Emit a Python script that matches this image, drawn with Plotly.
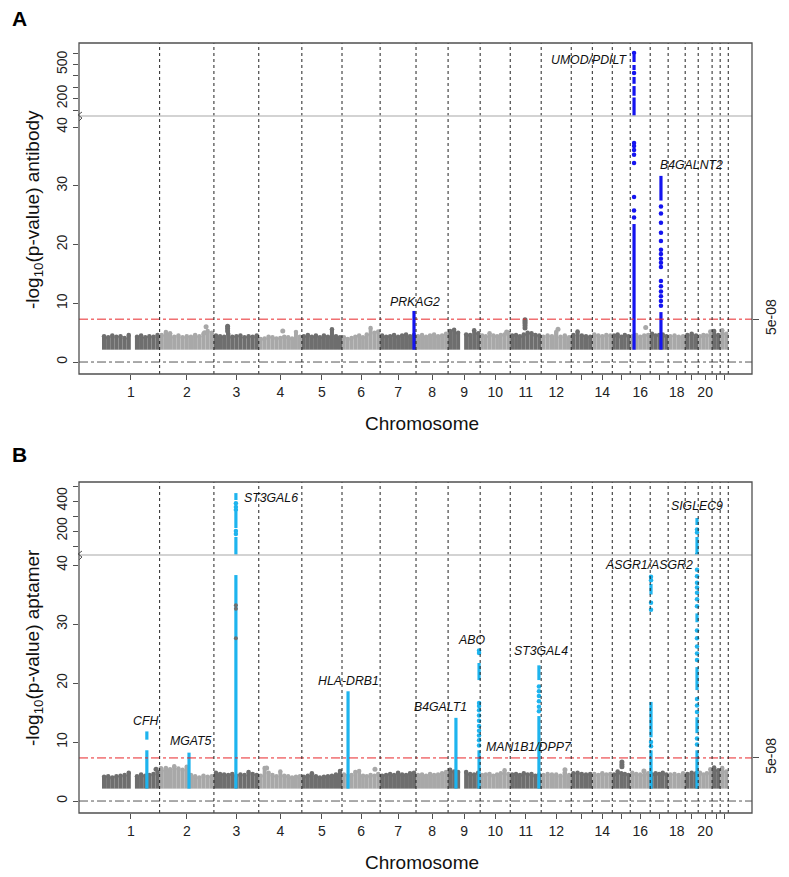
import plotly.graph_objects as go

# ------------------------------------------------------------------ data
chrom_len = [257, 242, 200, 192, 179, 170, 160, 143, 143, 134, 138, 134,
             94, 89, 80, 89, 80, 76, 58, 62, 36, 36]          # plotted Mb span
chrom_tick_text = ["1", "2", "3", "4", "5", "6", "7", "8", "9", "10", "11", "12",
                   "", "14", "", "16", "", "18", "", "20", "", ""]

bg_floor = 2.1          # lowest plotted -log10(p)
gws_value = 7.3         # -log10(5e-08)

# background envelope (top of the grey point cloud), bins per chromosome
bgA = [
    [4.4, 4.2, 4.5, 4.3, 4.4, 4.1, 4.6, None, 4.3, 4.5, 4.2, 4.4, 4.3, 4.6],
    [4.6, 5.1, 4.9, 4.3, 4.5, 4.2, 4.4, 4.3, 4.6, 4.4, 4.8, 5.3, 5.0],
    [4.5, 4.4, 4.3, 4.8, 4.3, 4.4, 4.5, 4.2, 4.4, 4.3, 4.5],
    [3.9, 4.0, 4.3, 4.2, 4.0, 4.1, 4.3, 4.2, 4.0, 5.1, 4.3],
    [4.4, 4.6, 4.3, 4.5, 4.2, 4.5, 4.3, 5.6, 4.4, 4.2],
    [4.2, 3.9, 4.1, 4.3, 4.5, 4.2, 4.7, 5.8, 5.0, 5.2],
    [4.5, 4.3, 4.4, 4.6, 4.3, 4.5, 4.7, 4.4, 4.6],
    [4.4, 4.6, 4.3, 4.5, 4.7, 4.4, 4.5, 4.8],
    [5.3, 5.5, 5.0, None, 4.7, 4.6, 5.4, 4.9],
    [4.5, 4.4, 4.9, 4.5, 4.4, 4.6, 4.7, 5.0],
    [4.5, 4.6, 4.4, 4.7, 5.0, 4.9, 4.6, 4.5],
    [4.3, 4.5, 4.4, 5.1, 4.3, 4.5, 4.2],
    [4.6, 5.2, 4.5, 4.4, 4.3],
    [4.7, 4.5, 4.4, 4.6, 4.5],
    [4.5, 4.7, 4.3, 4.6, 4.4],
    [4.4, 4.6, 4.3, 4.5, 4.6],
    [4.8, 4.5, 4.6, 4.7, 4.4],
    [4.4, 4.5, 4.3, 4.4],
    [4.6, 4.8, 4.5],
    [4.4, 4.6, 4.5, 5.2],
    [5.3, 4.6],
    [5.4, 4.8],
]
bgB = [
    [4.1, 4.2, 4.0, 4.2, 4.3, 4.4, 4.8, None, 4.2, 4.5, 4.3, 4.4, 4.6, 4.9],
    [5.2, 5.6, 5.4, 5.9, 5.5, 5.3, 5.8, 4.4, 4.2, 4.0, 4.3, 4.1, 4.2],
    [4.8, 4.6, 4.5, 4.4, 4.6, 4.3, 4.5, 4.4, 4.9, 4.6, 4.4],
    [4.3, 5.6, 4.8, 4.4, 4.2, 5.0, 4.3, 4.2, 4.0, 4.1, 4.2],
    [4.1, 4.3, 4.7, 4.2, 4.0, 4.1, 4.2, 4.3, 4.5, 5.1],
    [4.5, 4.3, 4.4, 4.9, 5.1, 4.3, 4.2, 4.4, 4.3, 4.6],
    [4.3, 4.4, 4.6, 4.4, 4.8, 4.5, 4.4, 4.7, 4.8],
    [4.4, 4.5, 4.3, 4.6, 4.4, 4.5, 4.7, 4.9],
    [5.3, 5.0, 4.9, None, 4.9, 4.6, 4.5, 4.8],
    [4.4, 4.5, 4.6, 4.3, 4.5, 4.7, 5.2, 4.6],
    [4.5, 4.6, 4.4, 4.7, 4.5, 4.6, 4.3, 4.5],
    [4.4, 4.6, 4.5, 4.5, 4.3, 4.8, 4.4],
    [4.7, 4.8, 4.6, 4.5, 4.6],
    [4.6, 4.4, 4.7, 4.5, 4.6],
    [4.5, 5.0, 4.7, 4.6, 4.4],
    [4.8, 4.6, 4.5, 4.4, 4.7],
    [4.5, 4.7, 4.6, 4.8, 4.5],
    [4.5, 4.6, 4.4, 4.7],
    [4.6, 4.8, 4.7],
    [4.8, 4.5, 4.7, 5.4],
    [5.7, 5.2],
    [5.6, 5.0],
]

# isolated grey points above the cloud
outA_chr = [2, 2, 3, 3, 3, 4, 11, 11, 11, 11, 11, 12, 16, 10]
outA_pos = [207, 200, 61, 61, 61, 107, 66, 66, 66, 66, 66, 75, 69, 118]
outA_val = [6.0, 5.0, 6.1, 5.7, 5.3, 5.3, 7.2, 6.9, 6.6, 6.2, 5.8, 5.6, 5.9, 5.1]

outB_chr = [15, 15, 15, 1, 2, 4, 6, 12, 16]
outB_pos = [43, 43, 43, 241, 6, 35, 147, 106, 61]
outB_val = [6.6, 6.2, 5.8, 5.4, 5.5, 5.6, 5.4, 5.3, 5.1]
overB_chr = [3, 3, 3]
overB_pos = [98, 98, 98]
overB_val = [33.2, 32.6, 27.6]

# associated loci: dense runs (lo, hi) and single points
hitA_chr = [7, 16, 17]
hitA_pos = [151, 17, 48]
hitA_runs = [
    [(2.1, 8.7)],
    [(2.1, 23.5), (47, 210), (225, 310), (330, 390), (451, 495), (521, 583)],
    [(2.1, 8.5), (27.5, 31.7)],
]
hitA_points = [
    [],
    [24.6, 25.8, 28.1, 33.9, 35.3, 36.1, 36.8, 37.3, 425, 600],
    [9.6, 10.4, 11.2, 12.0, 12.9, 13.8, 16.2, 16.9, 17.6, 18.4, 19.1, 20.6, 22.0, 23.7, 25.3, 26.5],
]
hitB_chr = [1, 2, 3, 6, 9, 9, 11, 17, 19]
hitB_pos = [200, 131, 98, 27, 35, 138, 128, 3.6, 52.7]
hitB_runs = [
    [(2.1, 8.6), (10.4, 11.8)],
    [(2.1, 8.2)],
    [(2.1, 38.3), (40, 160), (220, 327), (407, 453)],
    [(2.1, 18.6)],
    [(2.1, 14.1)],
    [(2.1, 8.6), (20.5, 23.4)],
    [(2.1, 14.4), (20.5, 23.0)],
    [(2.1, 8.6), (10.8, 16.8), (35.0, 36.8)],
    [(2.1, 8.6), (11.5, 14.2), (18.8, 22.7), (30.3, 31.8), (40, 160), (240, 287)],
]
hitB_points = [
    [],
    [],
    [360, 180, 200, 340, 385],
    [],
    [],
    [9.4, 10.3, 11.1, 11.9, 12.7, 13.6, 14.5, 15.4, 16.1, 16.6, 25.1, 25.5],
    [15.2, 16.0, 16.9, 17.8, 18.6, 19.4],
    [9.3, 10.0, 32.4, 33.6, 37.4, 38.0],
    [9.6, 10.6, 15.1, 16.2, 17.3, 23.9, 25.0, 26.2, 27.6, 28.9, 33.0, 34.2, 35.3,
     36.2, 37.0, 38.1, 39.2, 40.5, 41.3, 190, 210],
]

# gene labels
labA_text = ["PRKAG2", "UMOD/PDILT", "B4GALNT2"]
labA_chr = [7, 16, 17]
labA_pos = [151, 17, 48]
labA_y = [10.2, 540, 33.6]
labA_anchor = ["center", "right", "left"]
labA_shift = [1, -5, -3]

labB_text = ["CFH", "MGAT5", "ST3GAL6", "HLA-DRB1", "B4GALT1", "ABO", "MAN1B1/DPP7",
             "ST3GAL4", "ASGR1/ASGR2", "SIGLEC9"]
labB_chr = [1, 2, 3, 6, 9, 9, 9, 11, 17, 19]
labB_pos = [200, 131, 98, 27, 35, 138, 138, 128, 3.6, 52.7]
labB_y = [13.6, 10.2, 420, 20.3, 15.9, 27.3, 9.2, 25.4, 40.0, 367]
labB_anchor = ["center", "center", "left", "center", "center", "center", "left",
               "center", "center", "center"]
labB_shift = [-1, 2, 6, 0, -15, -8, 5, 2, -2, 0]

yticksA_low = [0, 10, 20, 30, 40]
yticksA_up = [100, 200, 300, 400, 500, 600]
ytextA_up = ["", "200", "", "", "500", ""]
yticksB_low = [0, 10, 20, 30, 40]
yticksB_up = [100, 200, 300, 400, 500]
ytextB_up = ["", "200", "", "400", ""]

# ------------------------------------------------------------------ layout helpers
# the page body has an 8px margin, so the figure is placed at (8, 8) in the window
OFF = 8
WIN_W, WIN_H = 789, 877
W, H = WIN_W - OFF, WIN_H - OFF
def px(x): return (x - OFF) / W
def py(y): return 1 - (y - OFF) / H

starts, acc = [], 0
for L in chrom_len:
    starts.append(acc)
    acc += L
total_len = acc
centers = [s + L / 2 for s, L in zip(starts, chrom_len)]
def gpos(c, p): return starts[c - 1] + p

X_RANGE = [-102.5, 2897.9]
XDOM = [px(79), px(752)]
A_LOW = [py(374), py(116)]
A_UP = [py(116), py(43)]
B_LOW = [py(813), py(555)]
B_UP = [py(555), py(482)]
A_LOW_R = [-2.04, 41.9]
A_UP_R = [47.4, 687.7]
B_LOW_R = [-2.03, 41.7]
B_UP_R = [40, 527]

DARK, LIGHT = "#6E6E6E", "#A8A8A8"
BLUE_A, BLUE_B = "#1414F0", "#1EB4EE"
FONT = "Liberation Sans, Arial, Helvetica, sans-serif"
FRAME = "#505050"

fig = go.Figure()


def add_background(bg, oc, op, ov, xa, ya):
    xs, hs, ws, cols, tx, ty = [], [], [], [], [], []
    for i, heights in enumerate(bg):
        bw = chrom_len[i] / len(heights)
        col = DARK if i % 2 == 0 else LIGHT
        for j, h in enumerate(heights):
            if h is None:
                continue
            xc = starts[i] + (j + 0.5) * bw
            xs.append(xc); hs.append(h - bg_floor); ws.append(bw); cols.append(col)
            tx.append(xc); ty.append(h)
    fig.add_trace(go.Bar(x=xs, y=hs, base=bg_floor, width=ws,
                         marker=dict(color=cols, line=dict(width=0)),
                         xaxis=xa, yaxis=ya, showlegend=False, hoverinfo="skip"))
    fig.add_trace(go.Scatter(x=tx, y=ty, mode="markers",
                             marker=dict(color=cols, size=4.5, line=dict(width=0)),
                             xaxis=xa, yaxis=ya, showlegend=False, hoverinfo="skip"))
    fig.add_trace(go.Scatter(x=[gpos(c, p) for c, p in zip(oc, op)], y=ov, mode="markers",
                             marker=dict(color=[DARK if c % 2 == 1 else LIGHT for c in oc],
                                         size=5, line=dict(width=0)),
                             xaxis=xa, yaxis=ya, showlegend=False, hoverinfo="skip"))


def add_hits(chrs, poss, runs, pts, color, brk, xa, ylo, yhi):
    lx, ly, ux, uy, plx, ply, pux, puy = [], [], [], [], [], [], [], []
    for c, p, rr, pp in zip(chrs, poss, runs, pts):
        x = gpos(c, p)
        for lo, hi in rr:
            if lo >= brk:
                ux += [x, x, None]; uy += [lo, hi, None]
            else:
                lx += [x, x, None]; ly += [lo, hi, None]
        for v in pp:
            if v >= brk:
                pux.append(x); puy.append(v)
            else:
                plx.append(x); ply.append(v)
    for xx, yy, ya in ((lx, ly, ylo), (ux, uy, yhi)):
        fig.add_trace(go.Scatter(x=xx, y=yy, mode="lines", line=dict(color=color, width=3.2),
                                 xaxis=xa, yaxis=ya, showlegend=False, hoverinfo="skip"))
    for xx, yy, ya in ((plx, ply, ylo), (pux, puy, yhi)):
        fig.add_trace(go.Scatter(x=xx, y=yy, mode="markers",
                                 marker=dict(color=color, size=4.5, line=dict(width=0)),
                                 xaxis=xa, yaxis=ya, showlegend=False, hoverinfo="skip"))


def add_reflines(xa, ya_right, ya_low):
    fig.add_trace(go.Scatter(x=X_RANGE, y=[0, 0], mode="lines",
                             line=dict(color="#555555", width=1, dash="dashdot"),
                             xaxis=xa, yaxis=ya_low, showlegend=False, hoverinfo="skip"))
    fig.add_trace(go.Scatter(x=X_RANGE, y=[gws_value, gws_value], mode="lines",
                             line=dict(color="#E8262A", width=1, dash="dashdot"),
                             xaxis=xa, yaxis=ya_right, showlegend=False, hoverinfo="skip"))


# panel A
add_background(bgA, outA_chr, outA_pos, outA_val, "x", "y")
add_hits(hitA_chr, hitA_pos, hitA_runs, hitA_points, BLUE_A, 45, "x", "y", "y2")
add_reflines("x", "y5", "y")
# panel B
add_background(bgB, outB_chr, outB_pos, outB_val, "x2", "y3")
add_hits(hitB_chr, hitB_pos, hitB_runs, hitB_points, BLUE_B, 40, "x2", "y3", "y4")
fig.add_trace(go.Scatter(x=[gpos(c, p) for c, p in zip(overB_chr, overB_pos)], y=overB_val,
                         mode="markers", marker=dict(color=DARK, size=4),
                         xaxis="x2", yaxis="y3", showlegend=False, hoverinfo="skip"))
add_reflines("x2", "y6", "y3")

# ------------------------------------------------------------------ axes
tickfont = dict(family=FONT, size=14, color="#222222")
xcommon = dict(range=X_RANGE, domain=XDOM, tickvals=centers, ticktext=chrom_tick_text,
               ticks="outside", ticklen=5, tickcolor=FRAME, showgrid=False, zeroline=False,
               showline=False, tickfont=tickfont, ticklabelstandoff=0, fixedrange=True)
ycommon = dict(ticks="outside", ticklen=5, tickcolor=FRAME, showgrid=False, zeroline=False,
               showline=False, tickangle=-90, tickfont=tickfont, fixedrange=True)
yright = dict(side="right", tickvals=[gws_value], ticktext=["5e-08"], ticks="outside",
              ticklen=6, tickcolor=FRAME, showgrid=False, zeroline=False, showline=False,
              tickangle=-90, tickfont=tickfont, fixedrange=True)

fig.update_layout(
    width=W, height=H, autosize=False,
    margin=dict(l=0, r=0, t=0, b=0),
    paper_bgcolor="white", plot_bgcolor="rgba(0,0,0,0)",
    barmode="overlay", showlegend=False,
    font=dict(family=FONT, color="#222222"),
    xaxis=dict(anchor="y", **xcommon),
    xaxis2=dict(anchor="y3", **xcommon),
    yaxis=dict(anchor="x", domain=A_LOW, range=A_LOW_R, tickvals=yticksA_low, **ycommon),
    yaxis2=dict(anchor="x", domain=A_UP, range=A_UP_R, tickvals=yticksA_up,
                ticktext=ytextA_up, **ycommon),
    yaxis3=dict(anchor="x2", domain=B_LOW, range=B_LOW_R, tickvals=yticksB_low, **ycommon),
    yaxis4=dict(anchor="x2", domain=B_UP, range=B_UP_R, tickvals=yticksB_up,
                ticktext=ytextB_up, **ycommon),
    yaxis5=dict(anchor="x", overlaying="y", range=A_LOW_R, **yright),
    yaxis6=dict(anchor="x2", overlaying="y3", range=B_LOW_R, **yright),
)

# ------------------------------------------------------------------ shapes
shapes = []
bounds = starts[1:] + [total_len]
for xref, dom in (("x", [A_LOW[0], A_UP[1]]), ("x2", [B_LOW[0], B_UP[1]])):
    for b in bounds:
        shapes.append(dict(type="line", xref=xref, yref="paper", x0=b, x1=b,
                           y0=dom[0], y1=dom[1], line=dict(color="#222222", width=1, dash="dot"),
                           layer="above"))
for top, brk, bot in ((43, 116, 374), (482, 555, 813)):
    shapes.append(dict(type="line", xref="paper", yref="paper", x0=XDOM[0], x1=XDOM[1],
                       y0=py(brk), y1=py(brk), line=dict(color="#C4C4C4", width=1.3)))
    shapes.append(dict(type="rect", xref="paper", yref="paper", x0=XDOM[0], x1=XDOM[1],
                       y0=py(bot), y1=py(top), line=dict(color=FRAME, width=1.3)))
    zig = [(79, brk + 5), (82, brk + 2), (78, brk - 1), (82, brk - 4)]
    path = "M " + " L ".join(f"{px(a):.5f},{py(b):.5f}" for a, b in zig)
    shapes.append(dict(type="path", xref="paper", yref="paper", path=path,
                       line=dict(color=FRAME, width=1)))
fig.update_layout(shapes=shapes)

# ------------------------------------------------------------------ annotations
ann = []
lab_font = dict(family=FONT, size=12.3, color="#111111")
for t, c, p, yv, anc, sh in zip(labA_text, labA_chr, labA_pos, labA_y, labA_anchor, labA_shift):
    ann.append(dict(x=gpos(c, p), y=yv, xref="x", yref="y2" if yv > 45 else "y",
                    text=f"<i>{t}</i>", showarrow=False, xanchor=anc, yanchor="middle",
                    xshift=sh, font=lab_font))
for t, c, p, yv, anc, sh in zip(labB_text, labB_chr, labB_pos, labB_y, labB_anchor, labB_shift):
    ann.append(dict(x=gpos(c, p), y=yv, xref="x2", yref="y4" if yv > 45 else "y3",
                    text=f"<i>{t}</i>", showarrow=False, xanchor=anc, yanchor="middle",
                    xshift=sh, font=lab_font))

title_font = dict(family=FONT, size=19, color="#111111")
for letter, ly in (("A", 18), ("B", 454)):
    ann.append(dict(x=px(19), y=py(ly), xref="paper", yref="paper", text=f"<b>{letter}</b>",
                    showarrow=False, xanchor="center", yanchor="middle",
                    font=dict(family=FONT, size=21, color="#000000")))
for cy in (423, 862):
    ann.append(dict(x=px(422), y=py(cy), xref="paper", yref="paper", text="Chromosome",
                    showarrow=False, xanchor="center", yanchor="middle", font=title_font))
for ttl, cy in (("-log<sub>10</sub>(p-value) antibody", 210),
                ("-log<sub>10</sub>(p-value) aptamer", 648)):
    ann.append(dict(x=px(34), y=py(cy), xref="paper", yref="paper", text=ttl, textangle=-90,
                    showarrow=False, xanchor="center", yanchor="middle", font=title_font))
fig.update_layout(annotations=ann)

fig.write_html("out.html")
